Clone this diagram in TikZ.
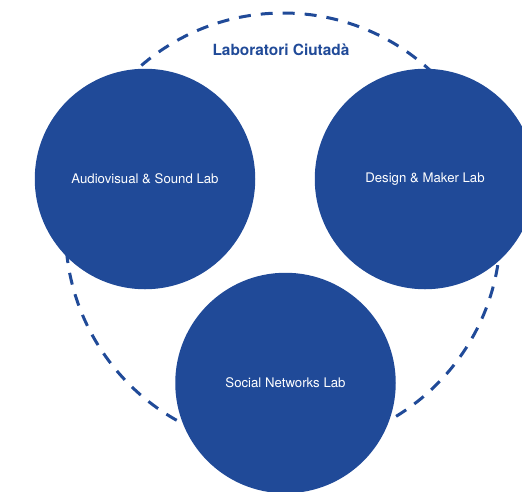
\documentclass[tikz,border=0pt]{standalone}
\usepackage{fontspec}
\setmainfont{TeX Gyre Heros}
\definecolor{labblue}{RGB}{32,74,152}
\begin{document}
\begin{tikzpicture}[x=1pt,y=-1pt,
  labcircle/.style={circle,fill=labblue,minimum size=220.5pt,inner sep=0pt,text=white,font=\fontsize{13.2}{15}\selectfont},
  ring/.style={draw=labblue,line width=3pt,dash pattern=on 12pt off 10pt},
  titlelabel/.style={text=labblue,font=\fontsize{15.4}{18}\selectfont\bfseries,inner sep=0pt}]
\useasboundingbox (0,0) rectangle (522,491);
\clip (0,0) rectangle (522,491);
\coordinate (ringc) at (283,230.5);
\draw[ring] (ringc) circle[radius=217.5pt];
\node[titlelabel] (title) at (281,50) {Laboratori Ciutadà};
\node[labcircle] (av) at (145,179) {Audiovisual \& Sound Lab};
\node[labcircle] (dm) at (425,179) {Design \& Maker Lab};
\node[labcircle] (sn) at (285.5,383) {Social Networks Lab};
\end{tikzpicture}
\end{document}
